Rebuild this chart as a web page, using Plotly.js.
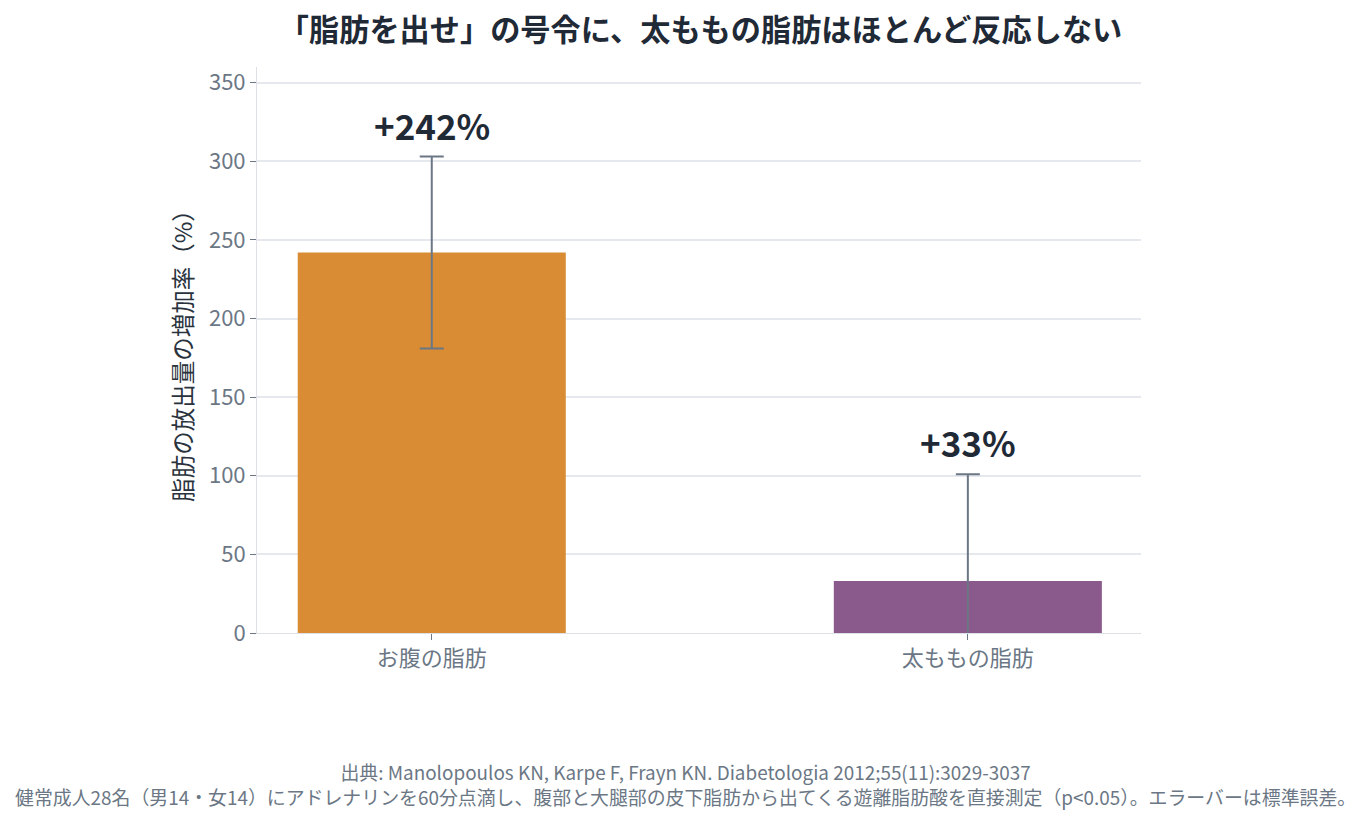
<!DOCTYPE html>
<html>
<head>
<meta charset="utf-8">
<script src="https://cdn.plot.ly/plotly-3.0.1.min.js"></script>
<style>
  html, body { margin: 0; padding: 0; background: #fff; }
  #chart { width: 1371px; height: 823px; }
</style>
</head>
<body>
<div id="chart"></div>
<script>
var categories = ['お腹の脂肪', '太ももの脂肪']
var increase = [242, 33]
var stdErr = [61, 68]
var valueLabels = ['+242%', '+33%']
var barColors = ['#d98c33', '#8b5a8c']
var sourceLines = [
    '出典: Manolopoulos KN, Karpe F, Frayn KN. Diabetologia 2012;55(11):3029-3037',
    '健常成人28名（男14・女14）にアドレナリンを60分点滴し、腹部と大腿部の皮下脂肪から出てくる遊離脂肪酸を直接測定（p<0.05）。エラーバーは標準誤差。'
]

var font = '"Noto Sans CJK JP", "Noto Sans", sans-serif'

var trace = {
    type: 'bar',
    x: categories,
    y: increase,
    width: 0.5,
    marker: {color: barColors},
    error_y: {
        type: 'data',
        array: stdErr,
        visible: true,
        color: '#6b7785',
        thickness: 2,
        width: 12
    },
    hoverinfo: 'skip'
}

// value labels sit above the top of each error bar
var annotations = categories.map(function (c, i) {
    return {
        x: c, y: increase[i] + stdErr[i],
        xref: 'x', yref: 'y',
        text: '<b>' + valueLabels[i] + '</b>',
        showarrow: false,
        yanchor: 'bottom', yshift: 5,
        font: {family: font, size: 35, color: '#1f2a36'}
    }
})
// source note, centred on the page rather than the plot
annotations.push({
    xref: 'paper', yref: 'paper', x: 0.4842, xanchor: 'center',
    y: -0.266, yanchor: 'middle',
    text: sourceLines.join('<br>'),
    showarrow: false, font: {family: font, size: 18.9, color: '#6b7785'}
})

var layout = {
    width: 1371, height: 823,
    margin: {l: 257, r: 230, t: 67, b: 190},
    paper_bgcolor: '#ffffff', plot_bgcolor: '#ffffff',
    font: {family: font, color: '#6b7785'},
    title: {
        text: '<b>「脂肪を出せ」の号令に、太ももの脂肪はほとんど反応しない</b>',
        xref: 'container', x: 0.511, xanchor: 'center', y: 0.963, yanchor: 'middle',
        font: {family: font, size: 30.2, color: '#1f2a36'}
    },
    showlegend: false,
    bargap: 0.5,
    xaxis: {
        type: 'category',
        range: [-0.326, 1.323],
        showgrid: false,
        showline: true, linecolor: '#dde1e6', linewidth: 1,
        ticks: 'outside', ticklen: 6, tickcolor: '#6b7785',
        tickfont: {family: font, size: 22, color: '#6b7785'},
        zeroline: false
    },
    yaxis: {
        range: [0, 360],
        dtick: 50,
        showgrid: true, gridcolor: '#e5e8ec', gridwidth: 1.5,
        showline: true, linecolor: '#dde1e6', linewidth: 1,
        ticks: 'outside', ticklen: 6, tickcolor: '#6b7785',
        tickfont: {family: font, size: 22, color: '#6b7785'},
        zeroline: false,
        title: {
            text: '脂肪の放出量の増加率（%）',
            standoff: 9,
            font: {family: font, size: 23.5, color: '#2a333d'}
        }
    },
    annotations: annotations
}

Plotly.newPlot('chart', [trace], layout, {displayModeBar: false})
</script>
</body>
</html>
